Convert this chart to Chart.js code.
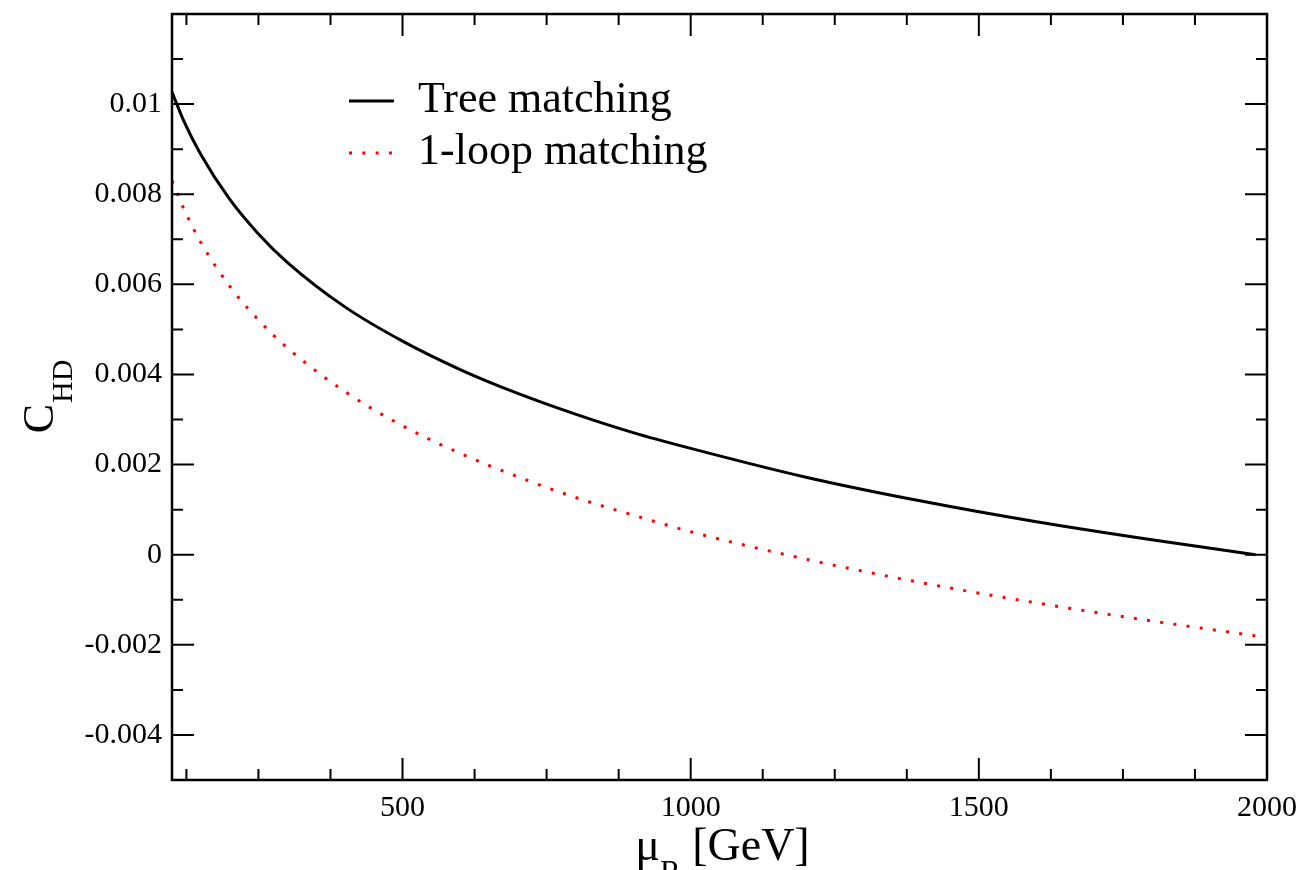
<!DOCTYPE html>
<html lang="en">
<head>
  <meta charset="UTF-8">
  <title>C_HD vs mu_R</title>
  <style>
    body { margin: 0; background: white; }
    #wrap { width: 1310px; height: 870px; position: relative; }
  </style>
</head>
<body>
  <div id="wrap"><canvas id="chart"></canvas></div>

  <script src="https://cdn.jsdelivr.net/npm/chart.js"></script>
  <script>
    // values (mu_R in GeV)
    const muValues   = [100, 120, 150, 200, 250, 300, 400, 500, 600, 700, 800, 900, 1000, 1200, 1400, 1600, 1800, 1980];
    const treeValues = [0.01027, 0.00964, 0.00888, 0.00789, 0.00712, 0.00649, 0.00550, 0.00474, 0.00411, 0.00358,
                        0.00312, 0.00271, 0.00236, 0.00172, 0.00119, 0.00073, 0.00033, 0.0];
    const loopValues = [0.00830, 0.00769, 0.00693, 0.00596, 0.00521, 0.00459, 0.00362, 0.00286, 0.00225, 0.00173,
                        0.00127, 0.00088, 0.00051, -0.00010, -0.00062, -0.00107, -0.00147, -0.00180];

    const seriesNames = ['Tree matching', '1-loop matching'];

    // tick marks (empty label = minor tick)
    const xTicks      = [125, 250, 375, 500, 625, 750, 875, 1000, 1125, 1250, 1375, 1500, 1625, 1750, 1875, 2000];
    const xTickLabels = ['', '', '', '500', '', '', '', '1000', '', '', '', '1500', '', '', '', '2000'];
    const yTicks      = [-0.004, -0.003, -0.002, -0.001, 0, 0.001, 0.002, 0.003, 0.004, 0.005, 0.006, 0.007, 0.008, 0.009, 0.010, 0.011];
    const yTickLabels = ['-0.004', '', '-0.002', '', '0', '', '0.002', '', '0.004', '', '0.006', '', '0.008', '', '0.01', ''];

    const serif = '"Liberation Serif", "DejaVu Serif", serif';

    // inward ticks on all four sides + frame, legend and axis titles
    const framePlugin = {
      id: 'frame',
      afterDraw(chart) {
        const { ctx, chartArea: a, scales: { x, y } } = chart;
        ctx.save();
        ctx.strokeStyle = '#000';
        ctx.lineWidth = 2;
        x.ticks.forEach((t, i) => {
          const px = x.getPixelForValue(t.value);
          const len = xTickLabels[i] ? 22 : 11;
          ctx.beginPath();
          ctx.moveTo(px, a.bottom); ctx.lineTo(px, a.bottom - len);
          ctx.moveTo(px, a.top); ctx.lineTo(px, a.top + len);
          ctx.stroke();
        });
        y.ticks.forEach((t, i) => {
          const py = y.getPixelForValue(t.value);
          const len = yTickLabels[i] ? 22 : 11;
          ctx.beginPath();
          ctx.moveTo(a.left, py); ctx.lineTo(a.left + len, py);
          ctx.moveTo(a.right, py); ctx.lineTo(a.right - len, py);
          ctx.stroke();
        });
        ctx.lineWidth = 2.5;
        ctx.strokeRect(a.left, a.top, a.right - a.left, a.bottom - a.top);

        // legend
        const lx = a.left + 177, ly = a.top + 87;
        ctx.font = '44px ' + serif;
        ctx.fillStyle = '#000';
        ctx.textBaseline = 'middle';
        chart.data.datasets.forEach((ds, i) => {
          const yy = ly + i * 52;
          ctx.beginPath();
          ctx.strokeStyle = ds.borderColor;
          ctx.lineWidth = 3;
          ctx.setLineDash(ds.borderDash || []);
          ctx.moveTo(lx, yy); ctx.lineTo(lx + 45, yy);
          ctx.stroke();
          ctx.setLineDash([]);
          ctx.fillText(ds.label, lx + 69, yy - 1);
        });

        // x title: mu_R [GeV]
        ctx.textBaseline = 'alphabetic';
        const mainX = '46px ' + serif, subX = '31px ' + serif;
        ctx.font = mainX; const wMu = ctx.measureText('\u03bc').width;
        const wRest = ctx.measureText(' [GeV]').width;
        ctx.font = subX; const wR = ctx.measureText('R').width;
        let sx = (a.left + a.right) / 2 - (wMu + wR + wRest) / 2 + 3;
        const by = 860;
        ctx.font = mainX; ctx.fillText('\u03bc', sx, by);
        ctx.font = subX; ctx.fillText('R', sx + wMu, by + 22);
        ctx.font = mainX; ctx.fillText(' [GeV]', sx + wMu + wR, by);

        // y title: C_HD, rotated
        ctx.font = '44px ' + serif; const wC = ctx.measureText('C').width;
        ctx.font = '30px ' + serif; const wHD = ctx.measureText('HD').width;
        const cy = (a.top + a.bottom) / 2;
        ctx.translate(53, cy + (wC + wHD) / 2);
        ctx.rotate(-Math.PI / 2);
        ctx.font = '44px ' + serif; ctx.fillText('C', 0, 0);
        ctx.font = '30px ' + serif; ctx.fillText('HD', wC + 1, 19);
        ctx.restore();
      }
    };

    new Chart(document.getElementById('chart'), {
      type: 'line',
      data: {
        datasets: [
          {
            label: seriesNames[0],
            data: muValues.map((m, i) => ({ x: m, y: treeValues[i] })),
            borderColor: '#000',
            borderWidth: 3,
            pointRadius: 0,
            cubicInterpolationMode: 'monotone'
          },
          {
            label: seriesNames[1],
            data: muValues.map((m, i) => ({ x: m, y: loopValues[i] })),
            borderColor: '#ff0000',
            borderWidth: 3,
            borderDash: [3, 10.3],
            borderCapStyle: 'butt',
            pointRadius: 0,
            cubicInterpolationMode: 'monotone'
          }
        ]
      },
      options: {
        responsive: true,
        maintainAspectRatio: false,
        animation: false,
        layout: { padding: { top: 14, right: 43, left: 0, bottom: 0 } },
        plugins: { legend: { display: false }, tooltip: { enabled: false } },
        scales: {
          x: {
            type: 'linear',
            min: 100, max: 2000,
            afterBuildTicks: s => { s.ticks = xTicks.map(v => ({ value: v })); },
            afterFit: s => { s.height = 90; s.paddingLeft = 0; s.paddingRight = 0; },
            grid: { display: false, drawTicks: false },
            border: { display: false },
            ticks: {
              autoSkip: false, maxRotation: 0, padding: 10,
              color: '#000', font: { family: serif, size: 30 },
              callback: (v, i) => xTickLabels[i]
            }
          },
          y: {
            type: 'linear',
            min: -0.005, max: 0.012,
            afterBuildTicks: s => { s.ticks = yTicks.map(v => ({ value: v })); },
            afterFit: s => { s.width = 172; s.paddingTop = 0; s.paddingBottom = 0; },
            grid: { display: false, drawTicks: false },
            border: { display: false },
            ticks: {
              autoSkip: false, padding: 10,
              color: '#000', font: { family: serif, size: 30 },
              callback: (v, i) => yTickLabels[i]
            }
          }
        }
      },
      plugins: [framePlugin]
    });
  </script>
</body>
</html>
